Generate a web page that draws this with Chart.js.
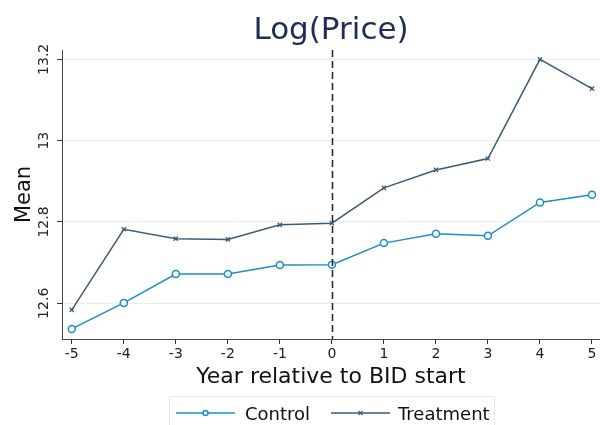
<!DOCTYPE html>
<html>
<head>
<meta charset="utf-8">
<script src="https://cdn.jsdelivr.net/npm/chart.js@4"></script>
<style>
  html, body { margin: 0; padding: 0; background: #ffffff; }
  #wrap { width: 600px; height: 425px; }
</style>
</head>
<body>
<div id="wrap"><canvas id="c" width="600" height="425"></canvas></div>
<script>
const years = [-5, -4, -3, -2, -1, 0, 1, 2, 3, 4, 5];
const control = [12.537, 12.601, 12.672, 12.672, 12.694, 12.695, 12.748, 12.771, 12.766, 12.848, 12.867];
const treatment = [12.584, 12.782, 12.759, 12.757, 12.793, 12.797, 12.884, 12.928, 12.956, 13.200, 13.128];
const yTicks = [12.6, 12.8, 13, 13.2];
const yTickLabels = ['12.6', '12.8', '13', '13.2'];
const xTicks = [-5, -4, -3, -2, -1, 0, 1, 2, 3, 4, 5];
const seriesNames = ['Control', 'Treatment'];
const titleText = 'Log(Price)';
const xTitle = 'Year relative to BID start';
const yTitle = 'Mean';
const eventYear = 0;

const C_CONTROL = '#1a8fc2';
const C_TREAT = '#3d5a78';
const FONT = '"DejaVu Sans", sans-serif';

const decor = {
  id: 'decor',
  afterDatasetsDraw(chart) {
    const ctx = chart.ctx;
    const xs = chart.scales.x;
    const area = chart.chartArea;
    const px = Math.round(xs.getPixelForValue(eventYear)) + 0.5;
    ctx.save();
    ctx.strokeStyle = '#222222';
    ctx.lineWidth = 1.5;
    ctx.setLineDash([7, 4]);
    ctx.beginPath();
    ctx.moveTo(px, area.top);
    ctx.lineTo(px, area.bottom);
    ctx.stroke();
    ctx.restore();
  },
  afterDraw(chart) {
    const ctx = chart.ctx;
    const ys = chart.scales.y;
    const area = chart.chartArea;
    ctx.save();
    // title
    ctx.fillStyle = '#1f2d56';
    ctx.font = '31px ' + FONT;
    ctx.textAlign = 'center';
    ctx.textBaseline = 'alphabetic';
    ctx.fillText(titleText, (area.left + area.right) / 2, 39);
    // y tick labels rotated
    ctx.fillStyle = '#222222';
    ctx.font = '14px ' + FONT;
    yTicks.forEach((v, i) => {
      const py = ys.getPixelForValue(v);
      ctx.save();
      ctx.translate(47.5, py);
      ctx.rotate(-Math.PI / 2);
      ctx.textAlign = 'center';
      ctx.textBaseline = 'alphabetic';
      ctx.fillText(yTickLabels[i], 0, 0);
      ctx.restore();
    });
    // y title
    ctx.save();
    ctx.fillStyle = '#111111';
    ctx.font = '21px ' + FONT;
    ctx.translate(30, (area.top + area.bottom) / 2);
    ctx.rotate(-Math.PI / 2);
    ctx.textAlign = 'center';
    ctx.textBaseline = 'alphabetic';
    ctx.fillText(yTitle, 0, 0);
    ctx.restore();
    // x title
    ctx.fillStyle = '#111111';
    ctx.font = '22px ' + FONT;
    ctx.textAlign = 'center';
    ctx.textBaseline = 'alphabetic';
    ctx.fillText(xTitle, (area.left + area.right) / 2, 383);
    // legend
    ctx.strokeStyle = '#e2eaec';
    ctx.lineWidth = 1;
    ctx.strokeRect(169.5, 396.5, 325, 40);
    const items = [
      {name: seriesNames[0], color: C_CONTROL, x0: 176, x1: 235, tx: 245, style: 'circle'},
      {name: seriesNames[1], color: C_TREAT, x0: 331, x1: 390, tx: 398, style: 'cross'}
    ];
    const ly = 413;
    items.forEach(it => {
      ctx.strokeStyle = it.color;
      ctx.lineWidth = 1.5;
      ctx.beginPath();
      ctx.moveTo(it.x0, ly);
      ctx.lineTo(it.x1, ly);
      ctx.stroke();
      const mx = (it.x0 + it.x1) / 2;
      if (it.style === 'circle') {
        ctx.fillStyle = '#ffffff';
        ctx.beginPath();
        ctx.arc(mx, ly, 2.5, 0, Math.PI * 2);
        ctx.fill();
        ctx.stroke();
      } else {
        ctx.lineWidth = 1.2;
        ctx.beginPath();
        ctx.moveTo(mx - 2, ly - 2); ctx.lineTo(mx + 2, ly + 2);
        ctx.moveTo(mx - 2, ly + 2); ctx.lineTo(mx + 2, ly - 2);
        ctx.stroke();
      }
      ctx.fillStyle = '#111111';
      ctx.font = '18px ' + FONT;
      ctx.textAlign = 'left';
      ctx.textBaseline = 'alphabetic';
      ctx.fillText(it.name, it.tx, 420);
    });
    ctx.restore();
  }
};

new Chart(document.getElementById('c'), {
  type: 'line',
  data: {
    datasets: [
      {
        label: seriesNames[0],
        data: years.map((x, i) => ({x: x, y: control[i]})),
        borderColor: C_CONTROL,
        backgroundColor: '#ffffff',
        borderWidth: 1.5,
        pointStyle: 'circle',
        pointRadius: 3.5,
        pointBorderWidth: 1.5,
        pointBackgroundColor: '#ffffff',
        pointBorderColor: C_CONTROL,
        tension: 0,
        clip: false
      },
      {
        label: seriesNames[1],
        data: years.map((x, i) => ({x: x, y: treatment[i]})),
        borderColor: C_TREAT,
        backgroundColor: C_TREAT,
        borderWidth: 1.5,
        pointStyle: 'crossRot',
        pointRadius: 3,
        pointBorderWidth: 1.3,
        pointBorderColor: C_TREAT,
        tension: 0,
        clip: false
      }
    ]
  },
  options: {
    responsive: false,
    animation: false,
    devicePixelRatio: 1,
    layout: { autoPadding: false, padding: { top: 50, left: 0, right: 0, bottom: 0 } },
    plugins: {
      legend: { display: false },
      title: { display: false },
      tooltip: { enabled: false }
    },
    scales: {
      x: {
        type: 'linear',
        min: -5.188,
        max: 5.154,
        afterBuildTicks: (s) => { s.ticks = xTicks.map(v => ({value: v})); },
        afterFit: (s) => { s.height = 86; s.paddingLeft = 0; s.paddingRight = 0; },
        grid: { drawOnChartArea: false, drawTicks: true, tickLength: 5, tickColor: '#333333', tickWidth: 1 },
        border: { display: true, color: '#444444', width: 1 },
        ticks: {
          color: '#222222',
          font: { family: '"DejaVu Sans", sans-serif', size: 14 },
          padding: 2,
          maxRotation: 0,
          autoSkip: false,
          callback: (v) => String(v)
        }
      },
      y: {
        type: 'linear',
        min: 12.5122,
        max: 13.2229,
        afterBuildTicks: (s) => { s.ticks = yTicks.map(v => ({value: v})); },
        afterFit: (s) => { s.width = 62; s.paddingTop = 0; s.paddingBottom = 0; },
        grid: { drawOnChartArea: true, color: '#e6eef0', lineWidth: 1, drawTicks: true, tickLength: 5, tickColor: '#333333', tickWidth: 1 },
        border: { display: true, color: '#444444', width: 1 },
        ticks: { display: false }
      }
    }
  },
  plugins: [decor]
});
</script>
</body>
</html>
